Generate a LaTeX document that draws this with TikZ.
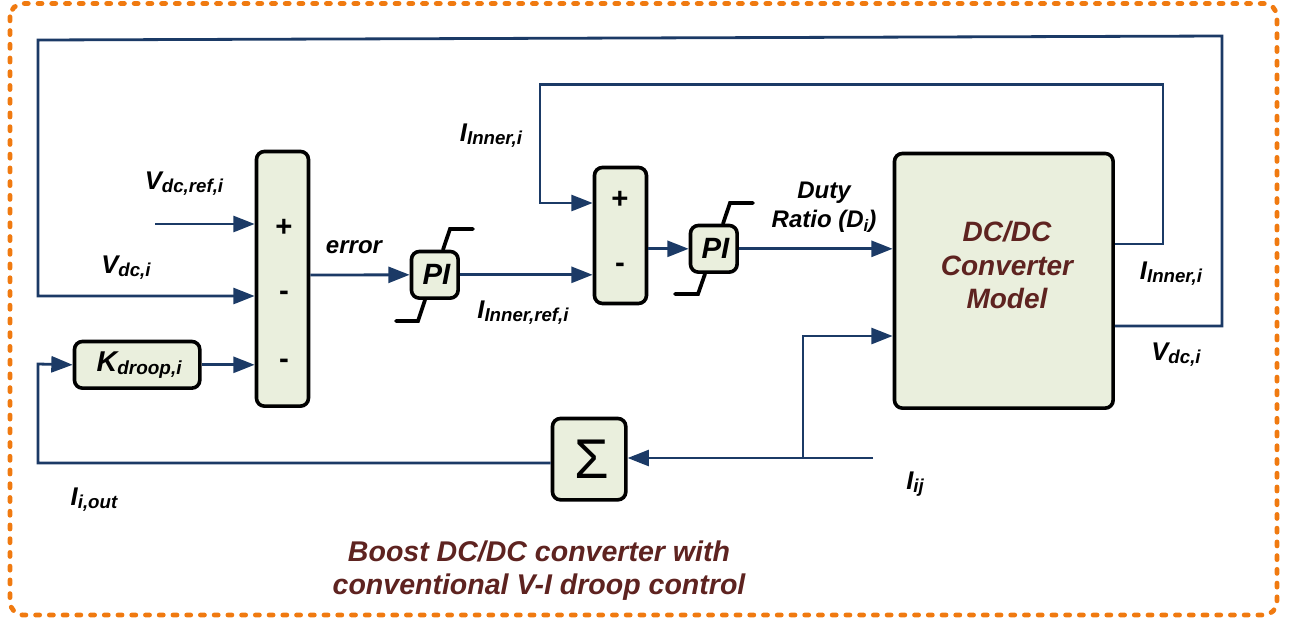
\documentclass[tikz,border=0pt]{standalone}
\usepackage{fontspec}
\setmainfont{Liberation Sans}
\usetikzlibrary{arrows.meta}
\definecolor{wire}{HTML}{1B3A66}
\definecolor{boxfill}{HTML}{EAEFDD}
\definecolor{frameor}{HTML}{F07A10}
\definecolor{darkred}{HTML}{5E2320}
\newcommand{\fsz}[1]{\fontsize{#1}{#1}\selectfont}
\newcommand{\lbl}[2]{{\fsz{19.2}#1}\raisebox{-0.4ex}{\fsz{14}#2}}
\tikzset{
  x=0.75pt,y=-0.75pt,
  wireline/.style={draw=wire,line width=2.1pt,line join=miter},
  arr/.style={wireline,-{Triangle[length=16pt,width=12pt]}},
  block/.style={draw=black,line width=2.7pt,fill=boxfill,rounded corners=6pt,inner sep=0pt,anchor=north west,font=\bfseries\itshape,xshift=-1pt,yshift=1pt},
  stepline/.style={draw=black,line width=2.8pt,line cap=round,line join=miter},
  txt/.style={inner sep=0pt,font=\bfseries\itshape,text=black,align=center},
  sgn/.style={inner sep=0pt,font=\bfseries\fsz{22},text=black},
  redtxt/.style={inner sep=0pt,text=darkred,align=center}
}
\begin{document}
\begin{tikzpicture}
\useasboundingbox (0,0) rectangle (1293,619);
\draw[frameor,line width=3.6pt,line cap=round,dash pattern=on 3pt off 7.3pt,rounded corners=10pt] (10,3.5) rectangle (1277,615);
% blocks
\node[block,minimum width=39pt,minimum height=191pt] (big) at (256,151) {};
\node[block,minimum width=39pt,minimum height=102pt] (second) at (594,167) {};
\node[block,minimum width=35pt,minimum height=35pt] (pione) at (411,251) {\hspace{2.5pt}\fsz{22}PI};
\node[block,minimum width=35pt,minimum height=35pt] (pitwo) at (690,225) {\hspace{2.5pt}\fsz{22}PI};
\node[block,minimum width=94pt,minimum height=35pt] (droop) at (74,341) {\hspace{3pt}{\fsz{21.5}K}\raisebox{-0.4ex}{\fsz{14.2}droop,i}};
\node[block,minimum width=55pt,minimum height=61pt] (sigma) at (552,418) {\hspace{3.5pt}\fontsize{42}{42}\selectfont\mdseries\upshape Σ};
\node[block,minimum width=164pt,minimum height=191pt] (plant) at (894,153) {};
% signs
\node[sgn] (s1) at (284,228) {+};
\node[sgn] (s2) at (284,296) {-};
\node[sgn] (s3) at (284,364) {-};
\node[sgn] (s4) at (620,200) {+};
\node[sgn] (s5) at (620,268) {-};
% free ends
\coordinate (vref) at (155,224);
\coordinate (iij) at (873,458);
\coordinate (branch) at (803,458);
% wires
\draw[arr] (vref) -- (vref -| big.west);
\draw[arr] (plant.east |- 0,326) -- (1222,326) -- (1222,36) -- (38,40) -- (38,296) -- (big.west |- 0,296);
\draw[arr] (plant.east |- 0,244) -- (1163,244) -- (1163,84.6) -- (540,84.6) -- (540,203) -- (second.west |- 0,203);
\draw[arr] (droop.east) -- (big.west |- droop.east);
\draw[arr] (big.east |- 0,275) -- (pione.west);
\draw[arr] (pione.east) -- (second.west |- pione.east);
\draw[arr] (second.east |- pitwo.west) -- (pitwo.west);
\draw[arr] (pitwo.east) -- (plant.west |- pitwo.east);
\draw[arr] (iij) -- (sigma.east |- iij);
\draw[arr] (branch) -- (803,336) -- (plant.west |- 0,336);
\draw[arr] (sigma.west |- 0,463) -- (38,463) -- (38,364) -- (droop.west);
% PI step marks
\draw[stepline] (pione.north -| 443,0) -- (450,229) -- (473,229);
\draw[stepline] (pione.south -| 425,0) -- (418,321) -- (396,321);
\draw[stepline] (pitwo.north -| 723,0) -- (730,203) -- (753,203);
\draw[stepline] (pitwo.south -| 705,0) -- (698,294) -- (675,294);
% labels
\node[txt] (l1) at (184,184) {\lbl{V}{dc,ref,i}};
\node[txt] (l2) at (126,268) {\lbl{V}{dc,i}};
\node[txt] (l3) at (354,247) {\fsz{18}error};
\node[txt] (l4) at (491,136) {\lbl{I}{Inner,i}};
\node[txt] (l5) at (523,313) {\lbl{I}{Inner,ref,i}};
\node[txt,font=\bfseries\itshape\fontsize{18}{21.75}\selectfont] (l6) at (824,207) {Duty\\Ratio (D\raisebox{-0.3ex}{\fsz{12.5}i})};
\node[txt] (l7) at (1171,274) {\lbl{I}{Inner,i}};
\node[txt] (l8) at (1176,355) {\lbl{V}{dc,i}};
\node[txt] (l9) at (94,500) {\lbl{I}{i,out}};
\node[txt] (l10) at (915,484) {\lbl{I}{ij}};
\node[redtxt,font=\bfseries\itshape\fontsize{21}{25}\selectfont] (model) at (1007,265) {DC/DC\\Converter\\Model};
\node[redtxt,font=\bfseries\itshape\fontsize{21.4}{24.75}\selectfont] (title) at (539,571) {Boost DC/DC converter with\\conventional V-I droop control};
\end{tikzpicture}
\end{document}
